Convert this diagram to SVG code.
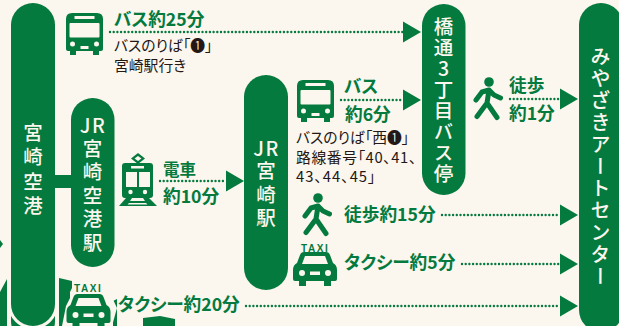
<svg xmlns="http://www.w3.org/2000/svg" width="619" height="326" viewBox="0 0 619 326">
<style>
text{font-family:"Noto Sans CJK JP","Noto Sans",sans-serif;font-feature-settings:"palt"}
.bg{fill:#fbf6ee}
.g{fill:#047a3e}
.c{fill:#fbf6ee}
.v{fill:#fbf6ee;font-size:19.500px;font-weight:500;text-anchor:middle}
.u{fill:#fbf6ee;font-size:19.500px;font-weight:500;writing-mode:vertical-rl;text-orientation:upright;font-feature-settings:normal}
.l{fill:#047a3e;font-size:17.700px;font-weight:700}
.s{fill:#231815;font-size:14.800px;font-weight:400}
.d{fill:none;stroke:#047a3e;stroke-width:2.400;stroke-linecap:round;stroke-dasharray:0 3.700}
.w{fill:none;stroke:#047a3e;stroke-width:5;stroke-linecap:round;stroke-linejoin:round}
.t{fill:#047a3e;font-size:10px;font-weight:700;letter-spacing:1.600px;font-family:"Liberation Sans",sans-serif}
</style>
<defs>
<g id="bus">
<path class="g" d="M6 0H31Q37 0 37 6V36Q37 38 35 38H33V42H27V38H10V42H4V38H2Q0 38 0 36V6Q0 0 6 0Z"/>
<rect class="c" x="3.500" y="10" width="30" height="14.500" rx="1"/>
<rect class="c" x="8.500" y="3" width="20" height="3"/>
<circle class="c" cx="6.500" cy="31" r="2.500"/><circle class="c" cx="30.500" cy="31" r="2.500"/>
<rect class="c" x="14.500" y="33" width="8" height="3"/>
</g>
<g id="walker">
<circle class="g" cx="15" cy="5" r="4.800"/>
<path class="w" d="M2 23L8 15L15 13L20 18L26.500 21M15 13L13 26L3 39.500M13 26L23 40.500"/>
</g>
<g id="car">
<path class="g" d="M11 0H33Q36 0 37 3L40 11Q44 13 44 18V27Q44 29 42 29H38V34H31V29H13V34H6V29H2Q0 29 0 27V18Q0 13 4 11L7 3Q8 0 11 0Z"/>
<path class="c" d="M12 4H32L35 12H9Z"/>
<circle class="c" cx="9" cy="21" r="3"/><circle class="c" cx="35" cy="21" r="3"/>
<rect class="c" x="17" y="19.500" width="10" height="3.500"/>
</g>
<path id="tri" class="g" d="M0 0L18 10.500L0 21Z"/>
</defs>
<rect class="bg" width="619" height="326"/>
<g id="background-shapes">
<path class="g" d="M0 240L3 244L0 248Z"/>
<path class="g" d="M7 279V326H0V292Z"/>
<path class="g" d="M59 278L72 281V288L70 292V326H59Z"/>
<path class="g" d="M143 318L160 316L175 319V326H143Z"/>
<path class="g" d="M113 301L117 299V326H113Z"/>
</g>
<g id="connectors">
<path class="d" d="M110 32H403"/>
<path class="d" d="M341 100H403"/>
<path class="d" d="M510 99H560"/>
<path class="d" d="M160 181H225"/>
<path class="d" d="M442 215H560"/>
<path class="d" d="M462 264H560"/>
<path class="d" d="M246 306H560"/>
<use href="#tri" x="403" y="21.500"/>
<use href="#tri" x="403" y="89.500"/>
<use href="#tri" x="560" y="88.500"/>
<use href="#tri" x="226" y="170.500"/>
<use href="#tri" x="560" y="204.500"/>
<use href="#tri" x="560" y="253.500"/>
<use href="#tri" x="560" y="295.500"/>
</g>
<g id="airport">
<rect x="11" y="3" width="44" height="340" rx="22" class="g"/>
<path d="M9.500 290V304A23.500 23.500 0 0 0 56.500 304V290" fill="none" stroke="#fbf6ee" stroke-width="3"/>
<rect class="g" x="55" y="175" width="17" height="13"/>
<text class="u" x="33" y="122.500" style="letter-spacing:5px">宮崎空港</text>
</g>
<g id="jr-airport">
<rect class="g" x="71" y="98" width="43.500" height="169" rx="21.750"/>
<text class="v" x="93" y="133" style="letter-spacing:1.500px">JR</text>
<text class="u" x="92.500" y="138.500" style="letter-spacing:4px">宮崎空港駅</text>
</g>
<g id="jr-miyazaki">
<rect class="g" x="244" y="75" width="44" height="215" rx="22"/>
<text class="v" x="266.500" y="156" style="letter-spacing:1.500px">JR</text>
<text class="u" x="266" y="161" style="letter-spacing:4px">宮崎駅</text>
</g>
<g id="tachibana">
<rect class="g" x="422" y="4" width="43.500" height="191" rx="21.750"/>
<text class="u" x="443.500" y="17" style="letter-spacing:1.500px">橋通3丁目バス停</text>
</g>
<g id="art-center">
<rect class="g" x="579" y="3" width="44" height="329" rx="22"/>
<text class="u" x="600.500" y="46" style="text-orientation:mixed;letter-spacing:2px;font-size:20px">みやざきアートセンター</text>
</g>
<g id="bus-1">
<use href="#bus" x="66" y="13"/>
<text class="l" x="114" y="25.500">バス約25分</text>
<text class="s"><tspan x="114" y="51">バスのりば「❶」</tspan><tspan x="114" y="71">宮崎駅行き</tspan></text>
</g>
<g id="train">
<path class="g" d="M138 153L145 158.500L138 164L131 158.500ZM138 156L134.500 158.500L138 161L141.500 158.500Z" fill-rule="evenodd"/>
<path class="g" d="M125 163H150Q153 163 153 166V195Q153 198 150 198H125Q122 198 122 195V166Q122 163 125 163Z"/>
<rect class="c" x="126" y="172" width="11" height="15"/>
<rect class="c" x="139" y="172" width="11" height="15"/>
<rect class="c" x="131" y="166" width="13" height="2.500"/>
<circle class="c" cx="130.500" cy="192" r="2.200"/><circle class="c" cx="145" cy="192" r="2.200"/>
<path class="g" d="M126 198H132L130 201H145L143 198H149L157 206H119ZM129 203L127.500 204.500H147.500L146 203Z" fill-rule="evenodd"/>
<text class="l" x="163" y="175.500" style="font-size:16.500px">電車</text>
<text class="l" x="163" y="203">約10分</text>
</g>
<g id="bus-2">
<use href="#bus" x="297" y="80"/>
<text class="l" x="344" y="93">バス</text>
<text class="l" x="345" y="121">約6分</text>
<text class="s"><tspan x="296" y="143">バスのりば「西❶」</tspan><tspan x="296" y="162.500" style="letter-spacing:.6px">路線番号「40、41、</tspan><tspan x="296" y="181.500" style="letter-spacing:1px">43、44、45」</tspan></text>
</g>
<g id="walk-1">
<use href="#walker" x="474" y="77"/>
<text class="l" x="509" y="92">徒歩</text>
<text class="l" x="509" y="120">約1分</text>
</g>
<g id="walk-2">
<use href="#walker" x="303" y="193"/>
<text class="l" x="344" y="221">徒歩約15分</text>
</g>
<g id="taxi-1">
<text class="t" x="301" y="251.500">TAXI</text>
<use href="#car" x="293" y="252"/>
<text class="l" x="344" y="269">タクシー約5分</text>
</g>
<g id="taxi-2">
<path class="c" d="M72 282H105V293H110L117 308L112 326H62L66 306L72 294Z"/>
<text class="t" x="74" y="292">TAXI</text>
<use href="#car" x="66.500" y="294"/>
<text class="l" x="118" y="311">タクシー約20分</text>
</g>
</svg>
